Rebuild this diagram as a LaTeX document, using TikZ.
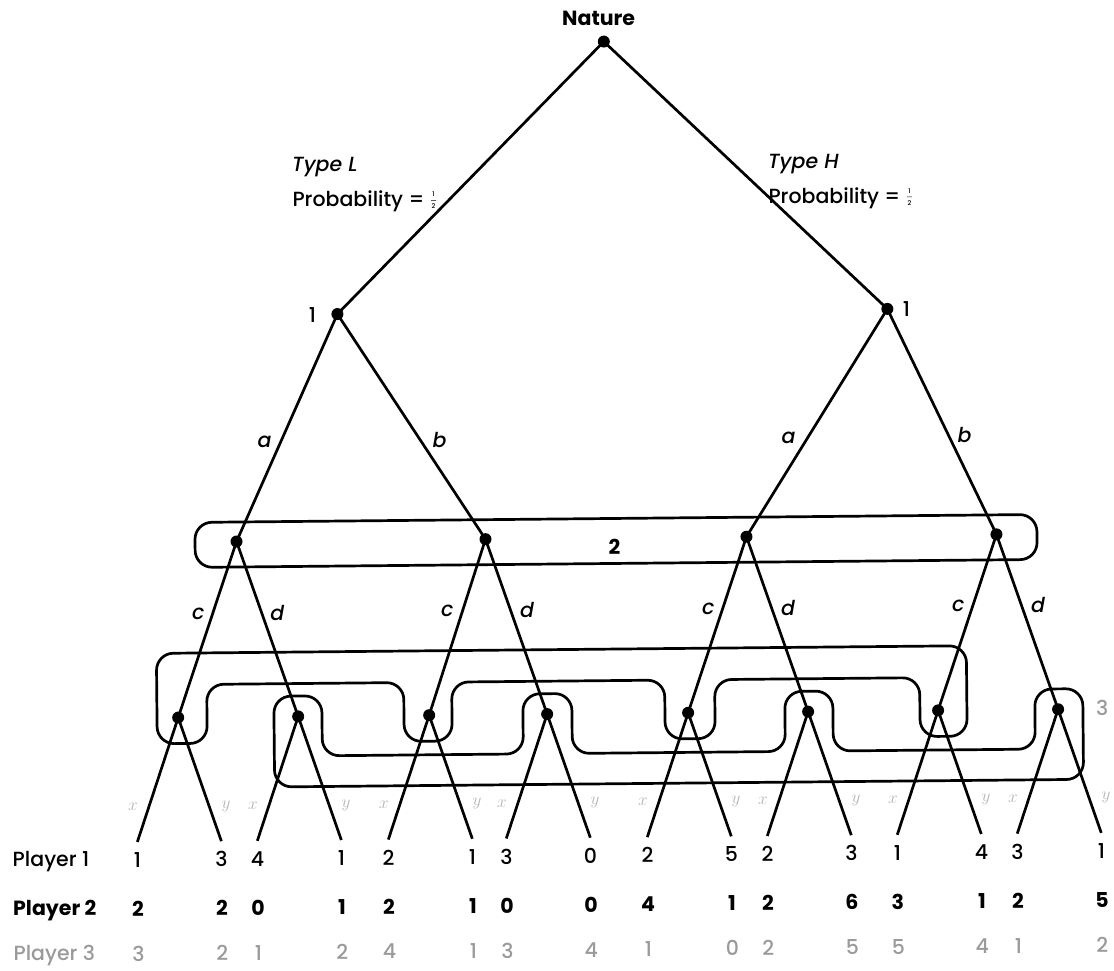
\documentclass[tikz,border=0pt]{standalone}
\usepackage{fontspec}
\setmainfont{Poppins}[UprightFont={* Medium},ItalicFont={* Medium Italic},BoldFont={* Bold},BoldItalicFont={* Bold Italic}]
\definecolor{pthree}{HTML}{9A9A9A}
\definecolor{xylab}{HTML}{B4B4B4}
\begin{document}
\begin{tikzpicture}[x=1pt,y=-1pt,
  edge/.style={line width=2.7pt},
  infoset/.style={line width=2.7pt,rounded corners=17pt},
  dot/.style={circle,fill=black,inner sep=0pt,minimum size=12pt},
  lab/.style={font=\fontsize{20.5}{24}\selectfont,inner sep=0pt},
  blab/.style={font=\fontsize{20.5}{24}\selectfont\bfseries,inner sep=0pt},
  ilab/.style={font=\fontsize{20.5}{24}\selectfont\itshape,inner sep=0pt},
  glab/.style={font=\fontsize{20.5}{24}\selectfont,text=pthree,inner sep=0pt},
  xy/.style={font=\fontsize{17}{18}\selectfont,text=xylab,inner sep=0pt},
  half/.style={font=\fontsize{6.5}{6.5}\selectfont,inner sep=0pt,text height=4.7pt,text depth=0pt}]
\useasboundingbox (0,0) rectangle (1114,971);
\begin{scope}[rotate around={0.54:(557,485)}]
% information sets
\draw[infoset] (194.5,519) rectangle (1036.5,564);
\draw[infoset] (600,649.6) -- (964.8,649.6) -- (964.8,740) -- (917.8,740) -- (917.8,681.1)
  -- (712.8,681.1) -- (712.8,740) -- (662.8,740) -- (662.8,681.1)
  -- (449.8,681.1) -- (449.8,740) -- (401.8,740) -- (401.8,681.1)
  -- (204.8,681.1) -- (204.8,740) -- (154.8,740) -- (154.8,649.6) -- cycle;
\draw[infoset] (600,784.3) -- (271.8,784.3) -- (271.8,693.6) -- (319.8,693.6) -- (319.8,753.6)
  -- (520.8,753.6) -- (520.8,693.6) -- (569.8,693.6) -- (569.8,753.6)
  -- (782.8,753.6) -- (782.8,693.6) -- (830.8,693.6) -- (830.8,753.6)
  -- (1032.8,753.6) -- (1032.8,693.6) -- (1080.8,693.6) -- (1080.8,784.3) -- cycle;
% decision nodes
\coordinate (N) at (608,42);
\coordinate (L) at (339,312);
\coordinate (H) at (889,312);
\coordinate (A1) at (236,538.5);
\coordinate (A2) at (485,538.5);
\coordinate (A3) at (746,538.5);
\coordinate (A4) at (996,538.5);
\foreach \i/\x in {1/176,2/296,3/427,4/545,5/686,6/806,7/936,8/1056}{
  \coordinate (B\i) at (\x,714);
  \coordinate (B\i x) at ({\x-42},838);
  \coordinate (B\i y) at ({\x+42},838);
}
% edges
\draw[edge] (L) -- (N) -- (H);
\draw[edge] (A1) -- (L) -- (A2);
\draw[edge] (A3) -- (H) -- (A4);
\draw[edge] (B1) -- (A1) -- (B2);
\draw[edge] (B3) -- (A2) -- (B4);
\draw[edge] (B5) -- (A3) -- (B6);
\draw[edge] (B7) -- (A4) -- (B8);
\foreach \i in {1,...,8}{\draw[edge] (B\i x) -- (B\i) -- (B\i y);}
% dots
\foreach \n in {N,L,H,A1,A2,A3,A4,B1,B2,B3,B4,B5,B6,B7,B8}{\node[dot] (d\n) at (\n) {};}
% labels
\node[blab] (tNature) at (603,19) {Nature};
\node[lab] (tL1) at (314,312.5) {1};
\node[lab] (tH1) at (908,312.5) {1};
\node[ilab,anchor=west] (tTL) at (295,165) {Type L};
\node[lab,anchor=west] (tPL) at (295,199) {Probability =};
\coordinate (fL) at ([xshift=9pt,yshift=1pt]tPL.east);
\node[half] (fL1) at ([yshift=5.8pt]fL) {1};
\node[half] (fL2) at ([yshift=-5.8pt]fL) {2};
\draw[line width=0.6pt] ([xshift=-2.5pt]fL) -- ([xshift=2.5pt]fL);
\node[ilab,anchor=west] (tTH) at (771,166) {Type H};
\node[lab,anchor=west] (tPH) at (771,200) {Probability =};
\coordinate (fH) at ([xshift=9pt,yshift=1pt]tPH.east);
\node[half] (fH1) at ([yshift=5.8pt]fH) {1};
\node[half] (fH2) at ([yshift=-5.8pt]fH) {2};
\draw[line width=0.6pt] ([xshift=-2.5pt]fH) -- ([xshift=2.5pt]fH);
\node[ilab] (la1) at (265,439) {a};
\node[ilab] (lb1) at (440,439) {b};
\node[ilab] (la2) at (789,440) {a};
\node[ilab] (lb2) at (965,439) {b};
\foreach \k/\x in {1/197,2/446,3/707,4/957}{\node[ilab] (lc\k) at (\x,610) {c};}
\foreach \k/\x in {1/276,2/526,3/787,4/1037}{\node[ilab] (ld\k) at (\x,610) {d};}
\node[blab] (t2) at (614,547.5) {2};
\node[glab] (t3) at (1100,713) {3};
\foreach \i/\x in {1/176,2/296,3/427,4/545,5/686,6/806,7/936,8/1056}{
  \node[xy] (lx\i) at ({\x-46},803) {$x$};
  \node[xy] (ly\i) at ({\x+47},803) {$y$};
}
% payoffs
\node[lab,anchor=west] (r1) at (9,856) {Player 1};
\node[blab,anchor=west] (r2) at (9,905) {Player 2};
\node[glab,anchor=west] (r3) at (9,950) {Player 3};
\foreach \xx/\a/\b/\c [count=\j] in {134/1/2/3,218/3/2/2,254/4/0/1,338/1/1/2,385/2/2/4,469/1/1/1,503/3/0/3,587/0/0/4,644/2/4/1,728/5/1/0,764/2/2/2,848/3/6/5,894/1/3/5,978/4/1/4,1014/3/2/1,1098/1/5/2}{
  \node[lab] (p1\j) at (\xx,856) {\a};
  \node[blab] (p2\j) at (\xx,905) {\b};
  \node[glab] (p3\j) at (\xx,950) {\c};
}
\end{scope}
\end{tikzpicture}
\end{document}
